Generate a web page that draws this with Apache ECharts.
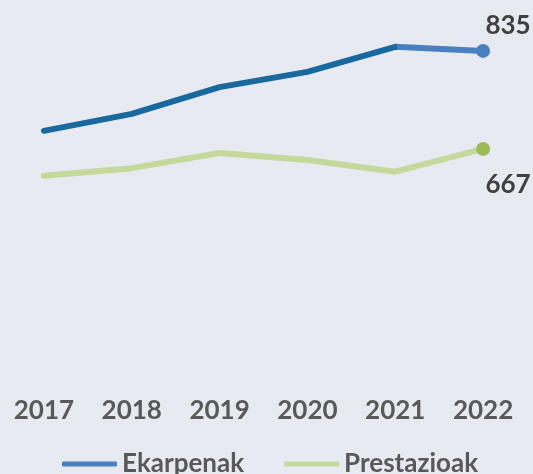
<!DOCTYPE html>
<html lang="eu">
<head>
<meta charset="UTF-8">
<title>Ekarpenak eta prestazioak</title>
<style>
  * { margin: 0; padding: 0; }
  html, body { width: 100%; height: 100%; background: #e7eaf1; }
  #main { width: 533px; height: 474px; }
</style>
</head>
<body>
<div id="main"></div>
<script src="https://cdn.jsdelivr.net/npm/echarts@6/dist/echarts.min.js"></script>
<script>
  var years = ['2017', '2018', '2019', '2020', '2021', '2022'];
  var ekarpenak = [698, 727, 773, 799, 842, 835];
  var prestazioak = [621, 634, 660, 648, 628, 667];

  var textColor = '#595959';
  var font = 'Lato';
  var last = years.length - 1;

  var chart = echarts.init(document.getElementById('main'));

  function lastOnly(size) {
    return function (v, p) { return p.dataIndex === last ? size : 0; };
  }

  var option = {
    backgroundColor: '#e7eaf1',
    animation: false,
    grid: { left: 0, right: 6, top: 13, height: 350 },
    legend: {
      left: 57,
      top: 446,
      itemWidth: 55,
      itemHeight: 5,
      itemGap: 40,
      icon: 'roundRect',
      textStyle: { color: textColor, fontFamily: font, fontWeight: 'bold', fontSize: 26 },
      data: [
        { name: 'Ekarpenak', itemStyle: { color: '#4a80c0' } },
        { name: 'Prestazioak', itemStyle: { color: '#c5d99d' } }
      ]
    },
    xAxis: {
      type: 'category',
      data: years,
      boundaryGap: true,
      axisLine: { show: false },
      axisTick: { show: false },
      axisLabel: { margin: 35, color: textColor, fontFamily: font, fontWeight: 'bold', fontSize: 26 }
    },
    yAxis: {
      type: 'value',
      min: 300,
      max: 900,
      show: false,
      splitLine: { show: false }
    },
    series: [
      {
        name: 'Ekarpenak',
        type: 'line',
        data: ekarpenak,
        symbol: 'circle',
        symbolSize: lastOnly(14),
        itemStyle: { color: '#4a80c0' },
        lineStyle: {
          width: 6,
          cap: 'round',
          join: 'round',
          color: new echarts.graphic.LinearGradient(0, 0, 1, 0, [
            { offset: 0, color: '#19699f' },
            { offset: 0.8, color: '#19699f' },
            { offset: 0.8, color: '#4a80c0' },
            { offset: 1, color: '#4a80c0' }
          ])
        },
        label: {
          show: true,
          position: 'top',
          offset: [25, 0],
          color: '#404040',
          fontFamily: font,
          fontWeight: 'bold',
          fontSize: 26,
          formatter: function (p) { return p.dataIndex === last ? p.value : ''; }
        }
      },
      {
        name: 'Prestazioak',
        type: 'line',
        data: prestazioak,
        symbol: 'circle',
        symbolSize: lastOnly(14),
        itemStyle: { color: '#9bbb59' },
        lineStyle: { width: 6, cap: 'round', join: 'round', color: '#c5d99d' },
        label: {
          show: true,
          position: 'bottom',
          offset: [25, 11],
          color: '#404040',
          fontFamily: font,
          fontWeight: 'bold',
          fontSize: 26,
          formatter: function (p) { return p.dataIndex === last ? p.value : ''; }
        }
      }
    ]
  };

  chart.setOption(option);
  window.onresize = function () { chart.resize(); };
</script>
</body>
</html>
